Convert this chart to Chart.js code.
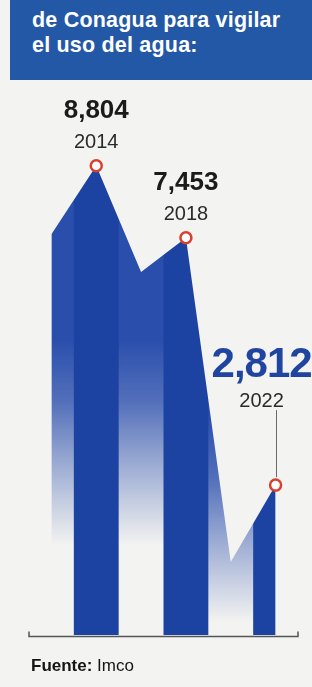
<!DOCTYPE html>
<html><head><meta charset="utf-8">
<script src="https://cdn.jsdelivr.net/npm/chart.js@4/dist/chart.umd.min.js"></script>
<style>
html,body{margin:0;padding:0;background:#f3f3f1;}
#wrap{position:relative;width:312px;height:687px;overflow:hidden;font-family:"Liberation Sans",Arial,sans-serif;}
#hdr{position:absolute;left:10px;top:0;width:302px;height:80px;background:#2358a6;}
#hdr div{position:absolute;left:22px;color:#fff;font-weight:bold;font-size:21.5px;letter-spacing:0.2px;line-height:1;white-space:nowrap;}
canvas{position:absolute;left:0;top:0;}
.lbl{position:absolute;white-space:nowrap;line-height:1;transform:translateX(-50%);}
.val{font-weight:bold;font-size:26px;color:#1b1b1b;}
.big{font-weight:bold;font-size:42px;color:#1f45a0;letter-spacing:-1px;}
.yr{font-size:20px;color:#2a2a2a;}
#src{position:absolute;left:31px;font-size:17px;line-height:1;color:#151515;white-space:nowrap;}
</style></head>
<body>
<div id="wrap">
  <div id="hdr">
    <div style="top:10px">de Conagua para vigilar</div>
    <div style="top:35px">el uso del agua:</div>
  </div>
  <canvas id="c" width="312" height="687"></canvas>
  <div id="src" style="top:657px"><b>Fuente:</b> Imco</div>
</div>
<script>
// ---- data ----
const years = [2012, 2014, 2016, 2018, 2020, 2022];
const values = [7520, 8804, 6810, 7453, 1370, 2812];
const labelYears = [2014, 2018, 2022];
const labelTexts = ['8,804', '7,453', '2,812'];
const yearTexts = ['2014', '2018', '2022'];
const highlightYear = 2022;

const COL = '#1d43a2';
const GAP = [42, 78, 172];

let patCache = null;
function areaFill(ctx) {
  const chart = ctx.chart;
  const ca = chart.chartArea;
  if (!ca) return COL;
  const key = chart.width + 'x' + chart.height + ':' + ca.top + ':' + ca.bottom;
  if (patCache && patCache.key === key) return patCache.pat;
  const xs = chart.scales.x, ys = chart.scales.y;
  const c = document.createElement('canvas');
  c.width = chart.width; c.height = chart.height;
  const g = c.getContext('2d');
  // gaps between the highlighted columns, each with its own vertical fade
  const edges = [years[0]];
  labelYears.forEach(yr => { edges.push(yr - 1, yr + 1); });
  edges.push(years[years.length - 1] + 1);
  for (let k = 0; k + 1 < edges.length; k += 2) {
    const a = edges[k], b = edges[k + 1];
    if (b <= a) continue;
    let lo = Infinity;
    years.forEach((y, i) => { if (y >= a && y <= b) lo = Math.min(lo, values[i]); });
    const valleyPx = ys.getPixelForValue(lo);
    const end = Math.max(545, valleyPx + 60);
    const start = end - 205;
    const grad = g.createLinearGradient(0, start, 0, end);
    const rgb = GAP.join(',');
    grad.addColorStop(0, 'rgba(' + rgb + ',1)');
    grad.addColorStop(0.3, 'rgba(' + rgb + ',0.8)');
    grad.addColorStop(0.55, 'rgba(' + rgb + ',0.5)');
    grad.addColorStop(0.8, 'rgba(' + rgb + ',0.22)');
    grad.addColorStop(1, 'rgba(' + rgb + ',0)');
    g.fillStyle = grad;
    const xa = xs.getPixelForValue(a), xb = xs.getPixelForValue(b);
    g.fillRect(xa - 1, 0, xb - xa + 2, c.height);
  }
  g.fillStyle = COL;
  labelYears.forEach(yr => {
    const a = xs.getPixelForValue(yr - 1), b = xs.getPixelForValue(yr + 1);
    g.fillRect(a, 0, b - a, c.height);
  });
  const pat = chart.ctx.createPattern(c, 'no-repeat');
  patCache = {key, pat};
  return pat;
}

const decor = {
  id: 'decor',
  afterDatasetsDraw(chart) {
    const g = chart.ctx, xs = chart.scales.x, ys = chart.scales.y;
    const y0 = Math.round(ys.getPixelForValue(0)) + 1.5;
    g.save();
    g.strokeStyle = '#555';
    g.lineWidth = 1.5;
    g.beginPath();
    g.moveTo(xs.left, y0 - 5); g.lineTo(xs.left, y0); g.lineTo(xs.right, y0); g.lineTo(xs.right, y0 - 5);
    g.stroke();
    const i = years.indexOf(highlightYear);
    const px = xs.getPixelForValue(highlightYear), py = ys.getPixelForValue(values[i]);
    g.strokeStyle = '#6a6a6a';
    g.lineWidth = 1;
    g.beginPath();
    g.moveTo(Math.round(px) + 0.5, py - 75);
    g.lineTo(Math.round(px) + 0.5, py - 8);
    g.stroke();
    g.restore();
  }
};

const chart = new Chart(document.getElementById('c'), {
  type: 'line',
  data: {
    datasets: [{
      data: years.map((y, i) => ({x: y, y: values[i]})),
      fill: 'origin',
      backgroundColor: areaFill,
      borderColor: 'rgba(0,0,0,0)',
      borderWidth: 0,
      tension: 0,
      pointRadius: c => labelYears.includes(years[c.dataIndex]) ? 5.5 : 0,
      pointBackgroundColor: '#ffffff',
      pointBorderColor: '#d8402c',
      pointBorderWidth: 2.5,
      clip: false
    }]
  },
  options: {
    responsive: false,
    animation: false,
    events: [],
    layout: {padding: {top: 102, bottom: 52, left: 29, right: 14}},
    plugins: {legend: {display: false}, tooltip: {enabled: false}},
    scales: {
      x: {type: 'linear', min: 2011, max: 2023, display: false},
      y: {min: 0, max: 10000, display: false}
    }
  },
  plugins: [decor]
});

// ---- HTML labels positioned from the scales ----
const wrap = document.getElementById('wrap');
const ASC = 0.8465;
function addLabel(text, cls, cx, baseline, fs) {
  const d = document.createElement('div');
  d.className = 'lbl ' + cls;
  d.textContent = text;
  d.style.left = cx + 'px';
  d.style.top = (baseline - ASC * fs) + 'px';
  wrap.appendChild(d);
}
const xs = chart.scales.x, ys = chart.scales.y;
labelYears.forEach((yr, k) => {
  const i = years.indexOf(yr);
  const px = xs.getPixelForValue(yr), py = ys.getPixelForValue(values[i]);
  if (yr === highlightYear) {
    addLabel(labelTexts[k], 'big', px - 14, py - 108, 42);
    addLabel(yearTexts[k], 'yr', px - 14, py - 78, 20);
  } else {
    addLabel(labelTexts[k], 'val', px, py - 48, 26);
    addLabel(yearTexts[k], 'yr', px, py - 18, 20);
  }
});
</script>
</body></html>
